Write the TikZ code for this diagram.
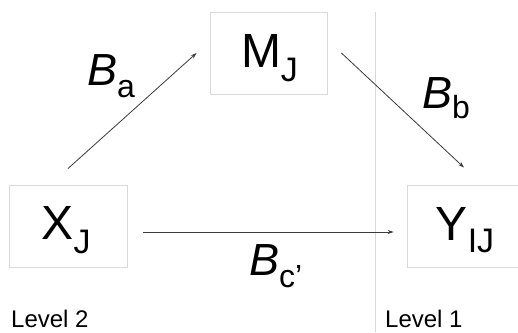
\documentclass[tikz,border=0pt]{standalone}
\usepackage{fontspec}
\setmainfont{Liberation Sans}
\usetikzlibrary{arrows.meta}
\definecolor{boxgray}{HTML}{D9D9D9}
\definecolor{arrgray}{HTML}{3A3A3A}
\newcommand{\mysub}[2]{\raisebox{-#1}{\fontsize{34}{36}\selectfont #2}}
\newcommand{\bsub}[2]{\raisebox{-#1}{\fontsize{32}{34}\selectfont\upshape #2}}
\begin{document}
\begin{tikzpicture}[x=1pt,y=-1pt,
  box/.style={draw=boxgray,line width=0.9pt,inner sep=0pt},
  mainlab/.style={inner sep=0pt,anchor=base,font=\fontsize{48}{50}\selectfont},
  coef/.style={inner sep=0pt,anchor=base west,font=\fontsize{45}{47}\selectfont\itshape},
  levlab/.style={inner sep=0pt,anchor=base west,font=\fontsize{24}{26}\selectfont},
  arr/.style={draw=arrgray,line width=0.8pt,-{Stealth[length=6pt,width=4pt]}}]
\useasboundingbox[fill=white] (0,0) rectangle (518,332);
% level separator
\coordinate (vtop) at (375,12);
\coordinate (vbot) at (375,332);
\draw[boxgray,line width=0.9pt] (vtop) -- (vbot);
% boxes
\node[box,minimum width=117pt,minimum height=82pt] (M) at (268.5,53) {};
\node[box,minimum width=118pt,minimum height=82pt] (X) at (68,226) {};
\node[box,minimum width=114pt,minimum height=82pt] (Y) at (464,226) {};
% box labels
\node[mainlab] (Mt) at (269.5,67) {M\mysub{14pt}{J}};
\node[mainlab] (Xt) at (66,239) {X\mysub{14pt}{J}};
\node[mainlab] (Yt) at (465,240) {Y\mysub{12pt}{IJ}};
% arrows
\draw[arr] ([yshift=16pt]X.north) -- ([xshift=-13pt]M.west);
\draw[arr] ([xshift=14pt]M.east) -- ([yshift=17pt]Y.north);
\draw[arr] ([shift={(16pt,-6pt)}]X.east) -- ([shift={(-13pt,-6pt)}]Y.west);
% coefficient labels
\node[coef] (Ba) at (87,85) {B\bsub{12pt}{a}};
\node[coef] (Bb) at (422,108) {B\bsub{10pt}{b}};
\node[coef] (Bc) at (249,275) {B\bsub{12pt}{c’}};
% level labels
\node[levlab] (L2) at (11,327) {Level 2};
\node[levlab] (L1) at (385,327) {Level 1};
\end{tikzpicture}
\end{document}
